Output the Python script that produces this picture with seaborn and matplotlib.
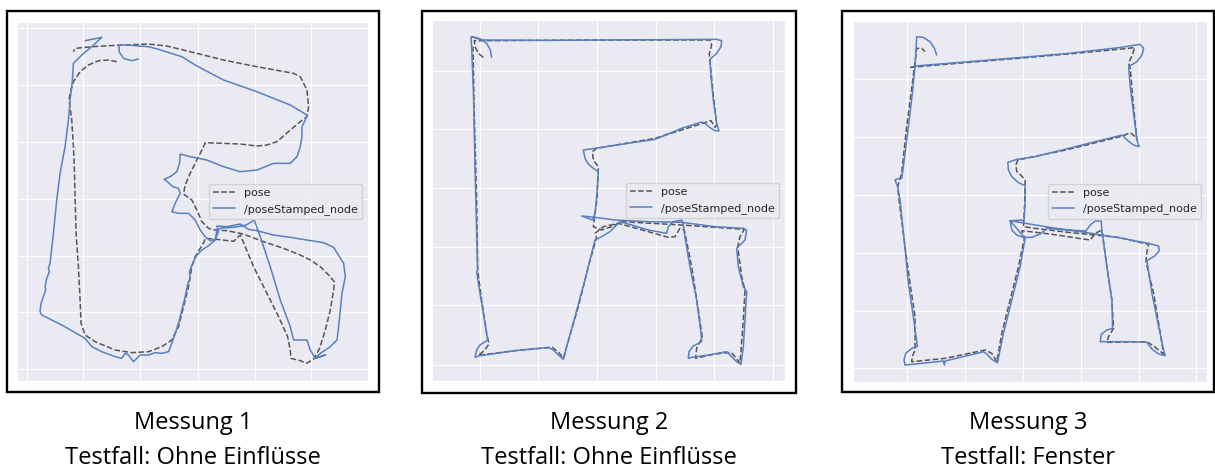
import matplotlib
matplotlib.use("Agg")
import matplotlib.pyplot as plt
from matplotlib.patches import Rectangle
import pandas as pd
import seaborn as sns

sns.set_style("darkgrid")

# Messung 1 - Testfall: Ohne Einfluesse
m1_pose_x = [350, 325, 295, 265, 240, 220, 210, 207, 215, 220, 223, 225, 228, 235, 240, 243, 255, 285, 345, 395,
             445, 485, 515, 535, 550, 565, 575, 585, 600, 612, 615, 640, 700, 720, 735, 760, 800, 835, 862, 870,
             872, 900, 918, 940, 958, 975, 990, 1000, 1002, 985, 960, 930, 900, 850, 790, 745, 720, 680, 645, 625,
             605, 590, 575, 550, 555, 570, 585, 600, 610, 615, 670, 720, 770, 800, 830, 870, 900, 920, 925, 920,
             900, 880, 770, 670, 570, 500, 445, 365, 275, 225, 220]
m1_pose_y = [185, 180, 182, 195, 215, 245, 280, 300, 360, 440, 510, 590, 700, 800, 900, 970, 1005, 1025, 1050, 1058,
             1055, 1040, 1020, 980, 920, 860, 800, 770, 745, 725, 715, 717, 724, 705, 740, 800, 880, 950, 1010, 1050,
             1075, 1082, 1090, 1078, 1045, 990, 930, 870, 845, 825, 800, 780, 765, 745, 725, 708, 700, 692, 690, 685,
             665, 630, 600, 582, 555, 520, 490, 460, 440, 428, 430, 432, 438, 435, 425, 390, 365, 350, 320, 270,
             230, 220, 200, 180, 155, 138, 132, 135, 140, 145, 155]
m1_node_x = [415, 395, 370, 357, 357, 380, 445, 475, 545, 585, 670, 770, 870, 920, 915, 905, 905, 900, 890, 870,
             820, 770, 720, 670, 620, 570, 540, 538, 530, 510, 492, 505, 518, 535, 540, 525, 515, 535, 565, 585,
             600, 615, 630, 645, 655, 650, 680, 720, 745, 770, 820, 870, 920, 970, 1000, 1030, 1035, 1025, 1020, 1015,
             1010, 990, 960, 945, 975, 945, 930, 920, 880, 870, 840, 810, 780, 762, 750, 735, 700, 665, 650, 645,
             625, 605, 588, 575, 568, 570, 563, 555, 545, 535, 525, 515, 505, 485, 465, 445, 420, 410, 400, 385,
             375, 365, 345, 305, 275, 255, 185, 125, 120, 123, 130, 137, 135, 140, 148, 145, 150, 160, 170, 180,
             195, 205, 210, 217, 220, 245, 275, 305, 280, 255]
m1_node_y = [177, 182, 175, 155, 135, 135, 140, 148, 170, 195, 240, 275, 315, 345, 360, 380, 410, 440, 470, 490,
             490, 510, 515, 500, 480, 470, 462, 490, 515, 530, 538, 548, 560, 565, 580, 610, 635, 640, 640, 660,
             690, 710, 722, 718, 695, 678, 680, 672, 688, 692, 705, 712, 720, 728, 742, 790, 830, 880, 930, 980,
             1020, 1040, 1060, 1075, 1065, 1075, 1050, 1020, 1020, 980, 900, 800, 710, 660, 668, 676, 682, 684, 690, 720,
             737, 750, 768, 795, 815, 835, 850, 890, 930, 970, 1000, 1030, 1055, 1060, 1058, 1065, 1065, 1075, 1085, 1065,
             1060, 1075, 1070, 1055, 1040, 1015, 975, 945, 935, 910, 890, 870, 860, 835, 815, 805, 790, 700, 600, 520,
             440, 360, 300, 240, 190, 165, 140, 112, 117, 122]

# Messung 2 - Testfall: Ohne Einfluesse
m2_pose_x = [205, 190, 180, 178, 230, 560, 885, 890, 883, 885, 895, 905, 900, 888, 870, 720, 545, 532, 535, 550,
             546, 535, 560, 590, 620, 800, 988, 975, 968, 980, 990, 985, 975, 962, 948, 900, 842, 845, 862, 850,
             830, 808, 795, 780, 760, 610, 565, 540, 545, 520, 490, 445, 432, 412, 300, 190, 208, 222, 215, 200,
             188, 185, 178, 174]
m2_pose_y = [172, 160, 140, 122, 122, 120, 120, 135, 160, 185, 285, 375, 382, 362, 368, 415, 445, 455, 480, 500,
             600, 680, 690, 680, 665, 675, 688, 710, 740, 830, 870, 960, 1090, 1072, 1057, 1062, 1075, 1045, 1012, 930,
             800, 690, 685, 710, 712, 670, 680, 700, 712, 800, 920, 1075, 1058, 1042, 1052, 1066, 1052, 1032, 1000, 900,
             810, 600, 350, 140]
m2_node_x = [230, 226, 215, 195, 170, 200, 400, 560, 750, 905, 920, 918, 905, 885, 888, 895, 905, 912, 900, 885,
             870, 860, 800, 720, 620, 540, 505, 510, 520, 535, 550, 546, 540, 533, 500, 540, 600, 700, 800, 900,
             985, 995, 990, 975, 965, 970, 985, 995, 990, 985, 978, 965, 950, 935, 880, 830, 820, 822, 835, 860,
             858, 845, 825, 808, 805, 800, 775, 760, 755, 700, 650, 615, 605, 585, 560, 540, 530, 510, 480, 455,
             445, 430, 415, 400, 300, 190, 180, 185, 195, 218, 210, 195, 185, 188, 185, 180, 176, 170, 168]
m2_node_y = [172, 150, 130, 116, 110, 120, 121, 120, 119, 118, 122, 140, 160, 178, 230, 300, 370, 393, 392, 383,
             370, 366, 385, 418, 433, 445, 450, 475, 492, 505, 515, 580, 640, 660, 648, 652, 660, 665, 667, 680,
             685, 690, 720, 735, 745, 800, 860, 875, 960, 1040, 1093, 1085, 1070, 1055, 1065, 1072, 1075, 1055, 1038, 1025,
             1000, 900, 800, 700, 672, 660, 665, 680, 700, 690, 675, 665, 675, 695, 710, 720, 760, 840, 950, 1040,
             1078, 1065, 1050, 1042, 1052, 1068, 1072, 1050, 1035, 1020, 970, 880, 815, 810, 700, 500, 300, 140, 112]

# Messung 3 - Testfall: Fenster
m3_pose_x = [225, 400, 560, 720, 880, 898, 893, 880, 885, 893, 905, 900, 885, 862, 700, 548, 542, 545, 560, 570,
             568, 565, 600, 700, 850, 940, 935, 932, 955, 970, 985, 970, 955, 935, 815, 820, 835, 830, 815, 800,
             780, 765, 645, 560, 568, 550, 525, 500, 485, 470, 450, 330, 230, 232, 240, 240, 225, 210, 192, 188,
             200, 215, 232, 245, 260, 270]
m3_pose_y = [202, 187, 174, 160, 145, 142, 160, 190, 205, 300, 420, 410, 398, 408, 448, 480, 495, 515, 528, 540,
             620, 680, 685, 697, 712, 733, 755, 785, 880, 970, 1062, 1050, 1038, 1025, 1027, 1010, 985, 900, 800, 690,
             700, 720, 702, 692, 712, 800, 900, 1000, 1085, 1060, 1050, 1075, 1085, 1070, 1050, 950, 850, 740, 600, 560,
             520, 380, 250, 145, 145, 155]
m3_node_x = [240, 400, 560, 700, 850, 915, 925, 920, 905, 880, 885, 895, 905, 912, 895, 878, 860, 800, 700, 600,
             545, 518, 520, 530, 550, 570, 570, 567, 525, 560, 650, 750, 850, 940, 970, 972, 958, 935, 950, 968,
             985, 990, 970, 950, 935, 880, 815, 795, 798, 815, 832, 830, 815, 800, 798, 780, 765, 752, 700, 635,
             615, 590, 565, 545, 530, 525, 570, 555, 530, 505, 487, 470, 455, 445, 330, 328, 325, 210, 207, 212,
             230, 247, 235, 220, 210, 195, 188, 180, 185, 200, 205, 220, 232, 240, 245, 265, 285, 298, 305]
m3_node_y = [198, 185, 172, 160, 143, 133, 145, 165, 185, 200, 260, 340, 420, 440, 435, 422, 405, 420, 445, 470,
             478, 487, 510, 530, 548, 557, 600, 660, 662, 668, 683, 697, 713, 730, 738, 752, 768, 782, 880, 970,
             1050, 1067, 1062, 1047, 1027, 1025, 1025, 1025, 1003, 990, 985, 900, 800, 690, 663, 663, 675, 693, 690, 685,
             702, 712, 712, 705, 690, 662, 715, 800, 900, 1000, 1088, 1078, 1062, 1055, 1083, 1095, 1083, 1095, 1080, 1060,
             1045, 1040, 950, 850, 745, 600, 560, 540, 537, 535, 500, 380, 280, 200, 110, 112, 125, 145, 165]

captions = ["Messung 1\nTestfall: Ohne Einflüsse",
            "Messung 2\nTestfall: Ohne Einflüsse",
            "Messung 3\nTestfall: Fenster"]

W, H = 1215, 468


def fig_box(x0, y0, x1, y1):
    return [x0 / W, 1 - y1 / H, (x1 - x0) / W, (y1 - y0) / H]


panels = [
    dict(border=(7, 11, 379, 392), axes=(16.7, 21.7, 368, 381),
         xlim=(50, 1103), ylim=(1143, 65),
         xt=[80, 250, 420, 593, 763, 933], yt=[85, 255, 425, 597, 767, 937, 1107],
         pose=(m1_pose_x, m1_pose_y), node=(m1_node_x, m1_node_y)),
    dict(border=(422, 11, 796, 393), axes=(432.3, 20, 785, 381),
         xlim=(52, 1110), ylim=(1143, 60),
         xt=[195, 370, 546, 723, 898, 1075], yt=[212, 387, 563, 740, 916, 1095],
         pose=(m2_pose_x, m2_pose_y), node=(m2_node_x, m2_node_y)),
    dict(border=(842, 11, 1214, 392), axes=(853.3, 20.7, 1207, 381.7),
         xlim=(55, 1115), ylim=(1145, 62),
         xt=[217, 390, 565, 738, 910, 1083], yt=[238, 412, 585, 758, 932, 1103],
         pose=(m3_pose_x, m3_pose_y), node=(m3_node_x, m3_node_y)),
]

fig = plt.figure(figsize=(W / 100, H / 100), dpi=100)

for p, cap in zip(panels, captions):
    fig.add_artist(Rectangle(fig_box(*p["border"])[:2], *fig_box(*p["border"])[2:],
                             transform=fig.transFigure, fill=False, lw=1.7, ec="black"))
    ax = fig.add_axes(fig_box(*p["axes"]))
    df = pd.concat([
        pd.DataFrame({"x": p["pose"][0], "y": p["pose"][1], "src": "pose"}),
        pd.DataFrame({"x": p["node"][0], "y": p["node"][1], "src": "/poseStamped_node"}),
    ], ignore_index=True)
    sns.lineplot(data=df, x="x", y="y", hue="src", style="src", ax=ax,
                 sort=False, estimator=None, lw=1.1,
                 palette={"pose": "#555555", "/poseStamped_node": "#5a7fc0"},
                 dashes={"pose": (3.7, 1.6), "/poseStamped_node": ""})
    ax.set_xlim(*p["xlim"])
    ax.set_ylim(*p["ylim"])
    ax.set_xticks(p["xt"])
    ax.set_yticks(p["yt"])
    ax.set_xticklabels([])
    ax.set_yticklabels([])
    ax.tick_params(length=0)
    ax.set_xlabel("")
    ax.set_ylabel("")
    h, l = ax.get_legend_handles_labels()
    ax.legend(h, l, loc="center right", fontsize=8)

    cx = (p["border"][0] + p["border"][2]) / 2
    line1, line2 = cap.split("\n")
    fig.text(cx / W, 1 - 423 / H, line1, ha="center", va="center",
             fontsize=17, family="Open Sans", color="black")
    fig.text(cx / W, 1 - 458 / H, line2, ha="center", va="center",
             fontsize=17, family="Open Sans", color="black")

fig.savefig("out.png", dpi=100)
